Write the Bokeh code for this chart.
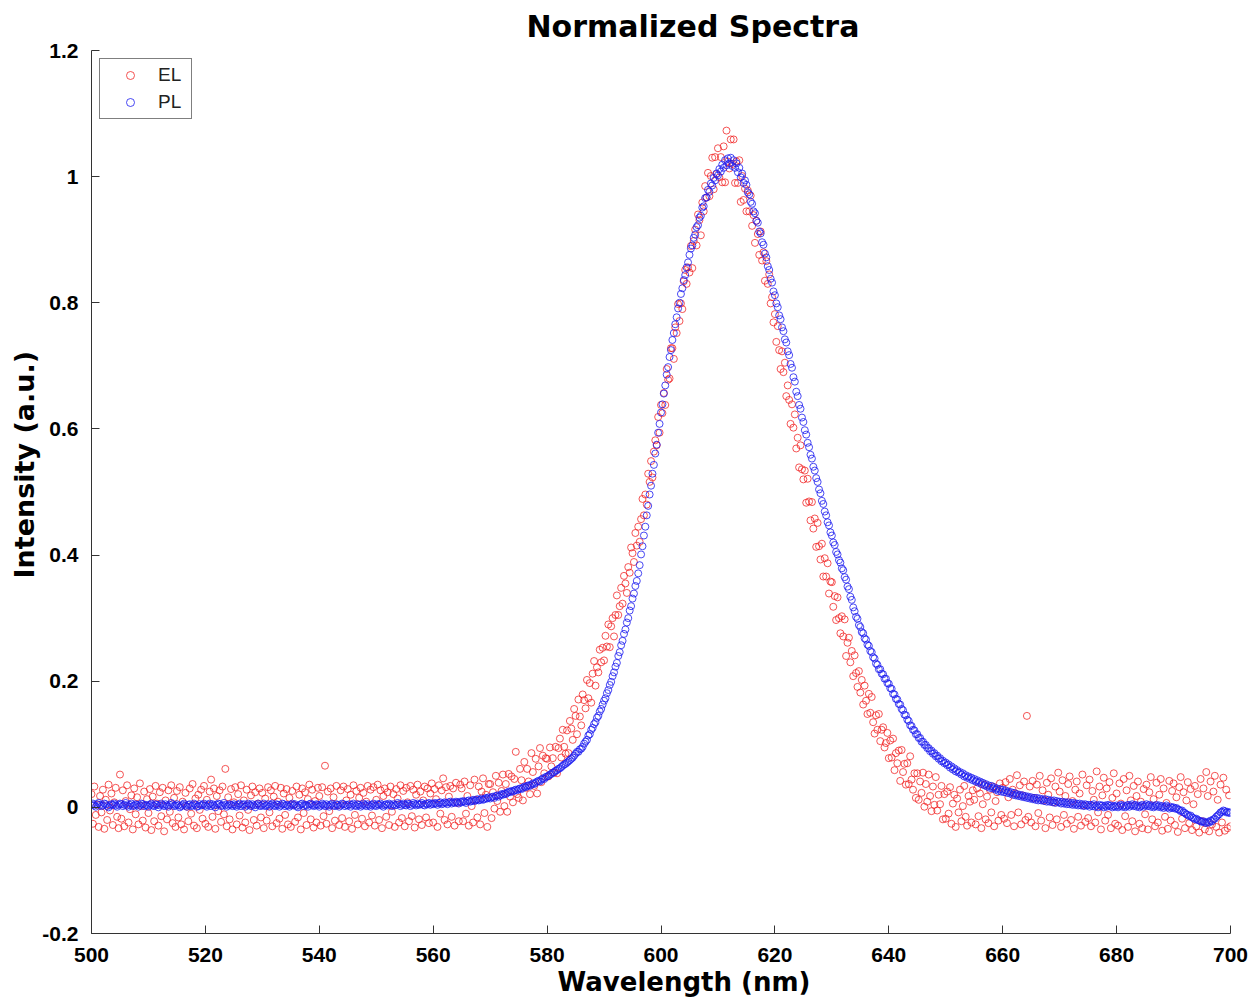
import numpy as np
from bokeh.plotting import figure
from bokeh.models import FixedTicker, Range1d, Title
from bokeh.embed import file_html
from bokeh.resources import INLINE

# ---------------- data ----------------
wl_start, wl_end = 500, 700
x_ticks = [500, 520, 540, 560, 580, 600, 620, 640, 660, 680, 700]
y_ticks = [-0.2, 0, 0.2, 0.4, 0.6, 0.8, 1, 1.2]
y_tick_labels = ["-0.2", "0", "0.2", "0.4", "0.6", "0.8", "1", "1.2"]

# EL intensity, 0.25 nm sampling from 500 to 700 nm (one row = 5 nm)
el_intensity = [
    .021,-.026,.033,-.012,.004,-.031,.018,-.008,.028,-.034,.012,-.020,.036,-.005,.022,-.028,.008,.031,-.015,-.033,
    .052,-.018,.027,-.030,.010,.035,-.024,-.003,.019,-.035,.030,-.011,.016,-.027,.038,.002,-.021,.025,-.032,.013,
    -.009,.029,-.036,.017,-.022,.034,.006,-.029,.024,-.014,.031,-.038,.011,-.019,.027,-.007,.035,-.025,.015,-.031,
    .026,-.016,.032,-.027,.009,-.035,.023,.001,-.022,.030,-.010,.037,-.029,.014,-.033,.020,-.004,.028,-.018,.034,
    -.026,.012,-.031,.025,.044,-.015,.030,-.034,.018,-.006,.027,-.023,.033,-.011,.061,-.030,.016,-.019,.029,-.035,
    .008,.032,-.027,.021,-.013,.035,-.032,.011,-.024,.028,-.004,-.036,.019,.033,-.020,.024,-.029,.006,.030,-.016,
    .023,-.033,.014,-.021,.032,-.008,.027,-.030,.017,.034,-.025,.009,-.018,.031,-.034,.022,-.012,.029,-.027,.015,
    -.031,.026,.004,-.023,.033,-.016,.020,-.035,.030,-.009,.024,-.028,.013,.036,-.019,.028,-.032,.010,-.024,.031,
    .018,-.029,.032,-.014,.066,-.026,.025,-.006,.030,-.033,.016,-.021,.034,.003,-.028,.027,-.017,.033,-.031,.011,
    .029,-.022,.020,-.034,.035,-.012,.026,-.027,.015,.031,-.018,.023,-.030,.009,.034,-.024,.028,-.013,.032,-.029,
    .012,.036,-.020,.027,-.033,.018,.030,-.015,.024,-.028,.033,-.007,.021,-.031,.029,.014,-.024,.035,-.017,.026,
    -.030,.031,.008,-.022,.034,-.014,.028,-.032,.020,.036,-.019,.025,-.028,.011,.033,-.016,.030,-.025,.022,.038,
    -.024,.029,.013,-.031,.035,-.010,.027,.046,-.020,.032,-.027,.017,.034,-.015,.030,-.029,.039,.007,-.022,.036,
    .030,-.022,.041,-.010,.018,-.029,.035,.002,-.024,.044,.012,-.016,.033,-.027,.025,.046,-.009,.020,-.031,.037,
    .037,-.017,.024,-.002,.050,.010,.039,-.007,.026,.052,.002,.037,-.007,.053,.017,.049,.008,.045,.088,.021,
    .015,.061,.043,.011,.072,.031,.061,.041,.021,.086,.056,.034,.077,.022,.065,.094,.040,.082,.054,.078,
    .077,.049,.095,.065,.078,.055,.096,.054,.094,.109,.079,.123,.096,.085,.122,.086,.137,.125,.107,.156,
    .145,.116,.171,.144,.130,.179,.170,.157,.202,.173,.197,.166,.212,.232,.193,.222,.214,.250,.230,.253,
    .233,.272,.255,.290,.254,.287,.300,.271,.305,.336,.305,.319,.348,.323,.367,.355,.340,.381,.372,.412,
    .403,.389,.435,.415,.445,.421,.457,.489,.463,.496,.480,.529,.516,.549,.523,.564,.582,.574,.619,.594,
    .638,.625,.657,.638,.695,.678,.680,.728,.728,.711,.761,.752,.798,.771,.799,.790,.834,.852,.830,.856,
    .848,.890,.855,.898,.916,.891,.940,.931,.907,.959,.945,.985,.967,1.006,.969,1.001,1.030,.980,1.031,1.004,
    1.045,.999,1.031,.991,1.048,.991,1.073,1.024,1.013,1.059,1.020,1.059,.990,1.024,.990,1.026,.960,1.001,.963,.981,
    .945,.978,.945,.970,.922,.939,.895,.930,.909,.876,.913,.867,.880,.835,.866,.830,.845,.799,.809,.769,
    .782,.738,.763,.725,.695,.723,.690,.705,.652,.669,.646,.608,.639,.602,.623,.569,.586,.539,.574,.536,
    .520,.534,.483,.521,.485,.455,.484,.442,.458,.413,.451,.414,.393,.418,.366,.395,.366,.387,.339,.358,
    .357,.318,.335,.297,.333,.300,.276,.303,.271,.298,.240,.261,.269,.230,.248,.208,.241,.213,.191,.216,
    .182,.202,.163,.193,.169,.148,.180,.150,.175,.135,.117,.146,.123,.148,.105,.123,.127,.095,.102,.118,
    .078,.106,.079,.109,.059,.086,.070,.090,.042,.091,.056,.069,.036,.070,.037,.081,.044,.028,.054,.015,
    .054,.012,.041,.023,.055,.001,.037,.009,.052,.018,-.006,.033,.004,.048,-.005,.020,.005,.034,-.019,.021,
    -.018,.025,-.010,.032,-.026,.006,.020,-.031,.014,-.008,.028,-.022,.002,.034,-.015,-.029,.018,.009,-.024,.027,
    .012,-.027,.030,-.014,.022,-.033,.005,.036,-.019,.017,-.025,.028,-.008,.033,-.030,.010,.024,-.021,.038,-.012,
    .031,-.018,.040,-.025,.016,.045,-.012,.028,-.030,.022,.051,-.008,.035,-.027,.019,.041,-.020,.145,-.015,.033,
    -.024,.042,.015,-.030,.036,-.009,.050,-.021,.027,.011,-.033,.039,.020,-.016,.046,-.028,.008,.033,-.019,.055,
    .025,-.031,.043,-.012,.018,-.026,.037,.049,-.020,.010,-.034,.028,.041,-.015,.022,-.029,.052,.003,-.023,.035,
    -.017,.044,-.030,.026,.012,-.024,.057,-.008,.033,-.035,.019,.047,-.021,.030,-.012,.040,-.033,.015,.054,-.026,
    .022,-.029,.038,.006,-.036,.045,-.014,.027,-.031,.050,.011,-.022,.034,-.038,.018,.041,-.026,.009,-.033,.029,
    -.011,.036,-.035,.024,.048,-.019,.013,-.030,.039,-.024,.020,.045,-.037,.030,-.015,.007,-.034,.042,-.021,.026,
    .038,-.028,.016,-.039,.032,.048,-.018,.024,-.033,.011,.040,-.025,.029,-.036,.005,.034,-.030,.021,-.040,.045,
    -.022,.030,-.035,.056,.018,-.038,.041,-.027,.025,.050,-.031,.012,-.040,.036,-.024,.047,-.037,.028,-.033,.019,
    -.030,
]

# PL intensity, 0.25 nm sampling from 500 to 700 nm (one row = 5 nm)
pl_intensity = [
    .004,.006,.003,.001,.005,.007,.004,.002,.003,.006,.005,.002,.000,.003,.005,.004,.006,.003,.001,.004,
    .006,.005,.002,.004,.007,.003,.001,.004,.006,.002,.003,.005,.004,.001,.003,.006,.005,.002,.004,.003,
    .001,.004,.006,.003,.002,.005,.004,.000,.003,.006,.004,.002,.005,.003,.001,.004,.007,.005,.002,.003,
    .005,.003,.000,.002,.004,.006,.003,.001,.004,.005,.002,.003,.006,.004,.001,.002,.005,.003,.004,.006,
    .003,.001,.004,.006,.002,.005,.003,.000,.004,.006,.005,.002,.003,.007,.004,.001,.003,.005,.004,.002,
    .005,.003,.001,.004,.006,.002,.004,.005,.001,.003,.006,.004,.002,.005,.003,.000,.004,.006,.003,.002,
    .004,.006,.002,.003,.005,.001,.004,.006,.003,.002,.005,.004,.001,.003,.006,.005,.002,.004,.003,.001,
    .004,.006,.003,.005,.002,.000,.003,.005,.006,.002,.004,.003,.001,.005,.006,.004,.002,.003,.005,.004,
    .001,.003,.006,.004,.002,.005,.003,.001,.004,.006,.003,.002,.005,.004,.001,.003,.006,.005,.002,.004,
    .003,.005,.001,.004,.006,.003,.002,.005,.004,.001,.003,.006,.004,.002,.005,.003,.001,.004,.006,.003,
    .002,.005,.004,.006,.003,.001,.004,.005,.003,.006,.004,.002,.005,.003,.004,.007,.005,.002,.004,.006,
    .004,.003,.006,.005,.002,.004,.007,.005,.003,.006,.004,.005,.007,.004,.003,.006,.005,.007,.004,.006,
    .005,.007,.006,.004,.007,.008,.005,.006,.008,.007,.005,.008,.009,.006,.008,.007,.009,.008,.006,.009,
    .008,.010,.009,.007,.010,.011,.009,.010,.012,.010,.011,.013,.011,.012,.014,.012,.013,.015,.014,.016,
    .014,.016,.017,.015,.018,.019,.017,.019,.021,.020,.022,.021,.023,.025,.024,.026,.025,.027,.028,.027,
    .029,.030,.029,.031,.033,.032,.034,.035,.034,.036,.038,.037,.039,.041,.042,.041,.044,.046,.045,.048,
    .049,.050,.052,.053,.055,.056,.058,.059,.061,.062,.064,.066,.068,.069,.071,.073,.075,.077,.079,.082,
    .085,.088,.088,.092,.093,.096,.101,.104,.107,.114,.116,.123,.126,.132,.135,.142,.145,.152,.156,.163,
    .169,.173,.181,.186,.194,.199,.208,.214,.223,.229,.240,.246,.257,.264,.275,.282,.293,.300,.312,.319,
    .331,.339,.351,.359,.371,.384,.401,.414,.431,.445,.463,.478,.496,.510,.529,.543,.561,.575,.594,.608,
    .626,.639,.656,.669,.686,.698,.714,.725,.741,.752,.766,.777,.791,.800,.814,.823,.836,.844,.856,.864,
    .876,.886,.891,.903,.908,.920,.923,.935,.938,.951,.953,.966,.967,.979,.976,.989,.986,.998,.994,1.005,
    1.002,1.012,1.008,1.019,1.014,1.026,1.018,1.029,1.021,1.030,1.017,1.026,1.014,1.021,1.007,1.014,.999,1.005,.990,.994,
    .987,.975,.972,.960,.957,.945,.942,.930,.927,.913,.910,.896,.892,.878,.872,.858,.852,.838,.832,.818,
    .812,.799,.793,.780,.774,.761,.755,.742,.737,.723,.717,.703,.697,.682,.675,.659,.652,.638,.632,.618,
    .611,.598,.591,.578,.571,.559,.553,.540,.534,.522,.516,.504,.498,.486,.481,.469,.463,.452,.447,.436,
    .431,.420,.416,.405,.401,.392,.388,.379,.376,.365,.361,.350,.346,.334,.329,.317,.311,.302,.299,.289,
    .286,.278,.276,.268,.266,.258,.256,.248,.246,.238,.236,.228,.226,.219,.219,.212,.211,.204,.204,.197,
    .196,.189,.188,.180,.179,.172,.171,.164,.163,.156,.154,.147,.146,.139,.137,.130,.129,.123,.122,.116,
    .116,.110,.110,.104,.104,.099,.099,.094,.094,.089,.090,.085,.086,.081,.082,.077,.078,.073,.074,.070,
    .071,.067,.068,.063,.065,.060,.062,.057,.059,.055,.056,.052,.054,.049,.051,.047,.049,.045,.047,.043,
    .045,.041,.043,.039,.041,.037,.039,.035,.037,.033,.035,.031,.034,.030,.032,.028,.030,.026,.029,.025,
    .028,.024,.027,.023,.025,.022,.024,.020,.023,.019,.021,.018,.020,.017,.019,.016,.018,.015,.017,.014,
    .016,.013,.015,.012,.015,.011,.014,.011,.013,.010,.013,.009,.012,.009,.011,.008,.011,.007,.010,.008,
    .009,.006,.009,.006,.008,.005,.008,.005,.007,.004,.007,.004,.006,.003,.006,.003,.005,.002,.005,.003,
    .004,.001,.004,.002,.005,.001,.003,.000,.004,.002,.003,.000,.003,.001,.004,.002,.003,.000,.002,.001,
    .003,.000,.002,.004,.001,.003,.000,.002,.004,.001,.003,.005,.002,.004,.001,.003,.000,.002,.004,.001,
    .003,.005,.002,.004,.001,.003,.000,.002,.004,.001,.003,.000,.002,-.001,.001,.003,.000,-.002,.001,-.001,
    .000,-.002,-.001,-.003,-.004,-.006,-.005,-.008,-.009,-.011,-.012,-.014,-.013,-.016,-.017,-.019,-.018,-.020,-.021,-.022,
    -.023,-.022,-.024,-.025,-.023,-.024,-.021,-.022,-.019,-.018,-.015,-.013,-.011,-.008,-.007,-.005,-.006,-.008,-.007,-.009,
    -.008,
]

el_wavelength = np.linspace(wl_start, wl_end, len(el_intensity))
pl_wavelength = np.linspace(wl_start, wl_end, len(pl_intensity))

# ---------------- figure ----------------
p = figure(width=1250, height=1000,
           x_range=Range1d(wl_start, wl_end), y_range=Range1d(-0.2, 1.2),
           output_backend="svg", toolbar_location=None,
           min_border_left=91, min_border_right=20,
           min_border_top=50, min_border_bottom=67)

p.grid.visible = False
p.outline_line_color = None
p.background_fill_color = "white"
p.border_fill_color = "white"

p.title.text = "Normalized Spectra"
p.title.text_font = "DejaVu Sans"
p.title.text_font_style = "bold"
p.title.text_font_size = "30px"
p.title.text_color = "black"
p.title.align = "left"
p.title.offset = 435
p.title.standoff = 12
p.title.vertical_align = "middle"

p.scatter(el_wavelength, el_intensity, marker="circle", size=7,
          fill_color=None, line_color="#f01c1c", line_alpha=0.75, line_width=1,
          legend_label="EL")
p.scatter(pl_wavelength, pl_intensity, marker="circle", size=7,
          fill_color=None, line_color="#1c1cf0", line_alpha=0.8, line_width=1,
          legend_label="PL")

p.xaxis.ticker = FixedTicker(ticks=x_ticks)
p.yaxis.ticker = FixedTicker(ticks=y_ticks)
p.yaxis.major_label_overrides = {t: s for t, s in zip(y_ticks, y_tick_labels)}

for ax in (p.xaxis[0], p.yaxis[0]):
    ax.major_tick_in = 8
    ax.major_tick_out = 0
    ax.minor_tick_in = 0
    ax.minor_tick_out = 0
    ax.axis_line_color = "#333333"
    ax.major_tick_line_color = "#333333"
    ax.major_label_text_font = "Liberation Sans"
    ax.major_label_text_font_style = "bold"
    ax.major_label_text_font_size = "21px"
    ax.major_label_text_color = "black"

p.xaxis.major_label_standoff = 14
p.yaxis.major_label_standoff = 13

# axis titles as side-panel titles (the reference puts them off-centre)
p.add_layout(Title(text="Wavelength (nm)", align="left", offset=466,
                   text_font="DejaVu Sans", text_font_style="bold",
                   text_font_size="26px", text_color="black", standoff=0),
             "below")
p.add_layout(Title(text="Intensity (a.u.)", align="left", offset=355,
                   text_font="DejaVu Sans", text_font_style="bold",
                   text_font_size="27px", text_color="black", standoff=0),
             "left")

lg = p.legend[0]
lg.location = "top_left"
lg.margin = 8
lg.padding = 5
lg.spacing = 5
lg.glyph_width = 50
lg.glyph_height = 20
lg.label_height = 20
lg.label_width = 28
lg.label_standoff = 3
lg.label_text_font = "Liberation Sans"
lg.label_text_font_size = "19px"
lg.label_text_color = "#222222"
lg.border_line_color = "black"
lg.border_line_width = 1
lg.background_fill_alpha = 1.0

open("out.html", "w").write(file_html(p, INLINE))
